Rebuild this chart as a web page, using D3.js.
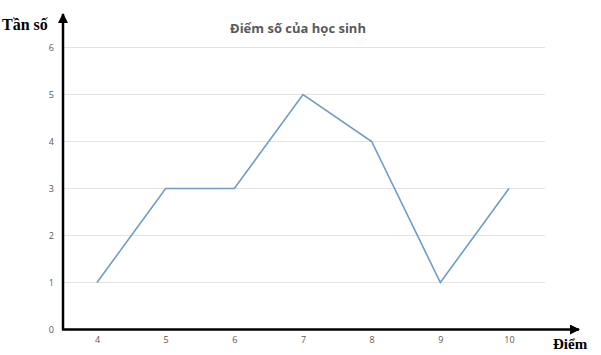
<!DOCTYPE html>
<html>
<head>
<meta charset="utf-8">
<script src="https://cdn.jsdelivr.net/npm/d3@7"></script>
<style>
  body { margin: 0; background: #fff; }
  svg { display: block; }
</style>
</head>
<body>
<div id="chart"></div>
<script>
// data
var diem = [4, 5, 6, 7, 8, 9, 10];
var tanSo = [1, 3, 3, 5, 4, 1, 3];
var yTicks = [0, 1, 2, 3, 4, 5, 6];

var width = 601,
    height = 355;

var svg = d3.select("#chart")
    .append("svg")
    .attr("width", width)
    .attr("height", height);

var x = d3.scalePoint()
    .domain(diem)
    .range([97, 509]);

var y = d3.scaleLinear()
    .domain([0, 6])
    .range([329.5, 47.5]);

// gridlines
svg.append("g")
    .selectAll("line")
    .data(yTicks.slice(1))
    .enter().append("line")
    .attr("x1", 63)
    .attr("x2", 545)
    .attr("y1", function (d) { return y(d); })
    .attr("y2", function (d) { return y(d); })
    .style("stroke", "#e3e3e3")
    .style("stroke-width", 1);

// y tick labels
var yAxis = d3.axisLeft(y).tickValues(yTicks).tickFormat(d3.format("d")).tickSize(0).tickPadding(0);
var gy = svg.append("g")
    .attr("transform", "translate(54,0)")
    .call(yAxis);
gy.select(".domain").remove();
gy.selectAll("text")
    .style("font-family", "'Open Sans', sans-serif")
    .style("font-size", "9px")
    .style("fill", "#595959");

// x tick labels
var xAxis = d3.axisBottom(x).tickSize(0).tickPadding(0);
var gx = svg.append("g")
    .attr("transform", "translate(0,337)")
    .call(xAxis);
gx.select(".domain").remove();
gx.selectAll("text")
    .style("font-family", "'Open Sans', sans-serif")
    .style("font-size", "9px")
    .style("fill", "#595959");

// line
var line = d3.line()
    .x(function (d, i) { return x(diem[i]); })
    .y(function (d) { return y(d); });

svg.append("path")
    .datum(tanSo)
    .attr("d", line)
    .style("fill", "none")
    .style("stroke", "#6f9cc2")
    .style("stroke-width", 1.6)
    .style("stroke-linejoin", "miter");

// axes with arrows
svg.append("defs").append("marker")
    .attr("id", "arrow")
    .attr("viewBox", "0 0 10 10")
    .attr("refX", 9)
    .attr("refY", 5)
    .attr("markerWidth", 4)
    .attr("markerHeight", 4)
    .attr("markerUnits", "strokeWidth")
    .attr("orient", "auto")
    .append("path")
    .attr("d", "M0,0 L10,5 L0,10 Z")
    .style("fill", "#000");

svg.append("line")
    .attr("x1", 63).attr("y1", 330)
    .attr("x2", 63).attr("y2", 14)
    .style("stroke", "#000")
    .style("stroke-width", 2.5)
    .attr("marker-end", "url(#arrow)");

svg.append("line")
    .attr("x1", 62).attr("y1", 329.5)
    .attr("x2", 579).attr("y2", 329.5)
    .style("stroke", "#000")
    .style("stroke-width", 2.5)
    .attr("marker-end", "url(#arrow)");

// title
svg.append("text")
    .attr("x", 298)
    .attr("y", 33)
    .attr("text-anchor", "middle")
    .style("font-family", "'Open Sans', sans-serif")
    .style("font-size", "13px")
    .style("font-weight", "bold")
    .style("fill", "#595959")
    .text("Điểm số của học sinh");

// axis names
svg.append("text")
    .attr("x", 2)
    .attr("y", 30)
    .style("font-family", "'Liberation Serif', serif")
    .style("font-size", "16px")
    .style("font-weight", "bold")
    .style("fill", "#000")
    .text("Tần số");

svg.append("text")
    .attr("x", 553)
    .attr("y", 349)
    .style("font-family", "'Liberation Serif', serif")
    .style("font-size", "15px")
    .style("font-weight", "bold")
    .style("fill", "#000")
    .text("Điểm");
</script>
</body>
</html>
